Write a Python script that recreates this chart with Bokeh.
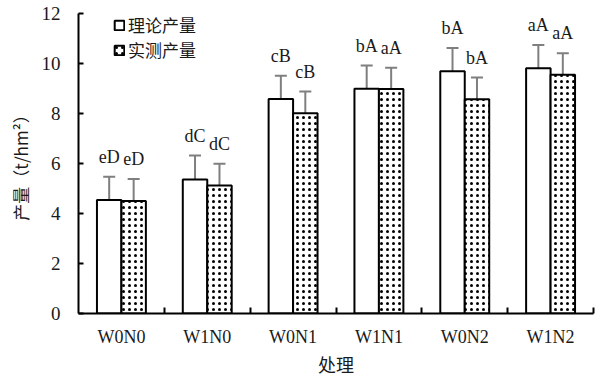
from bokeh.plotting import figure
from bokeh.models import (ColumnDataSource, FixedTicker, Whisker, TeeHead,
                          Legend, LegendItem, LabelSet, Range1d)
from bokeh.transform import dodge
from bokeh.embed import file_html
from bokeh.resources import INLINE

categories = ["W0N0", "W1N0", "W0N1", "W1N1", "W0N2", "W1N2"]
theory = [4.54, 5.36, 8.58, 8.99, 9.69, 9.81]
theory_err = [0.93, 0.96, 0.93, 0.93, 0.93, 0.93]
measured = [4.50, 5.12, 8.01, 8.98, 8.57, 9.55]
measured_err = [0.88, 0.87, 0.87, 0.85, 0.87, 0.86]
theory_labels = ["eD", "dC", "cB", "bA", "bA", "aA"]
measured_labels = ["eD", "dC", "cB", "aA", "bA", "aA"]
y_ticks = [0, 2, 4, 6, 8, 10, 12]

SERIF = "'Liberation Serif', serif"
CJK = "Noto Sans CJK SC"
TXT = "#1a1a1a"

xc = [i + 0.5 for i in range(len(categories))]
src = ColumnDataSource(dict(
    x=xc,
    t=theory, tu=[v + e for v, e in zip(theory, theory_err)],
    tl=[v - e for v, e in zip(theory, theory_err)],
    m=measured, mu=[v + e for v, e in zip(measured, measured_err)],
    ml=[v - e for v, e in zip(measured, measured_err)],
    tlab=theory_labels, mlab=measured_labels,
))

p = figure(width=596, height=379, output_backend="svg", toolbar_location=None,
           x_range=Range1d(0, 6), y_range=Range1d(0, 12),
           min_border_left=78, min_border_right=3, min_border_top=13,
           min_border_bottom=64)
p.outline_line_color = None
p.grid.visible = False
p.background_fill_color = "white"

bw = 0.285
off = bw / 2
r1 = p.vbar(x=dodge("x", -off), top="t", width=bw, source=src,
            fill_color="white", line_color="black", line_width=2)
r2 = p.vbar(x=dodge("x", off), top="m", width=bw, source=src,
            fill_color="white", line_color="black", line_width=2,
            hatch_pattern="dot", hatch_color="black", hatch_scale=6,
            hatch_weight=1)

for xs, up, lo in ((dodge("x", -off), "tu", "tl"), (dodge("x", off), "mu", "ml")):
    w = Whisker(base=xs, upper=up, lower=lo, source=src, dimension="height",
                line_color="#7f7f7f", line_width=2,
                upper_head=TeeHead(size=12, line_color="#7f7f7f", line_width=2),
                lower_head=TeeHead(size=12, line_color="#7f7f7f", line_width=2))
    p.add_layout(w)

for xs, yy, lab in ((dodge("x", -off), "tu", "tlab"), (dodge("x", off), "mu", "mlab")):
    ls = LabelSet(x=xs, y=yy, text=lab, source=src, text_align="center",
                  text_baseline="alphabetic", y_offset=14, text_font=SERIF,
                  text_font_size="18px", text_color=TXT)
    p.add_layout(ls)

# axes
xax = p.below[0]
yax = p.left[0]
xax.ticker = FixedTicker(ticks=xc, minor_ticks=[1, 2, 3, 4, 5, 6])
xax.major_label_overrides = {x: c for x, c in zip(xc, categories)}
xax.major_tick_in = 0
xax.major_tick_out = 0
xax.minor_tick_in = 6
xax.minor_tick_out = 0
xax.minor_tick_line_color = "black"
xax.minor_tick_line_width = 2
xax.major_label_text_font = SERIF
xax.major_label_text_font_size = "18px"
xax.major_label_text_color = TXT
xax.major_label_standoff = 13
xax.axis_label = "处理"
xax.axis_label_text_font = CJK
xax.axis_label_text_font_style = "normal"
xax.axis_label_text_font_size = "18px"
xax.axis_label_standoff = 1
xax.axis_label_text_color = TXT

yax.ticker = FixedTicker(ticks=y_ticks, minor_ticks=[])
yax.major_tick_in = 5
yax.major_tick_out = 0
yax.major_label_text_font = SERIF
yax.major_label_text_font_size = "19px"
yax.major_label_text_color = TXT
yax.major_label_standoff = 18
yax.axis_label = "产量（t/hm²）"
yax.axis_label_text_font = CJK
yax.axis_label_text_font_style = "normal"
yax.axis_label_text_font_size = "17px"
yax.axis_label_standoff = 6
yax.axis_label_text_color = TXT

for ax in (xax, yax):
    ax.axis_line_color = "black"
    ax.axis_line_width = 2
    ax.major_tick_line_color = "black"
    ax.major_tick_line_width = 2

for r, name, ypos in ((r1, "理论产量", 276), (r2, "实测产量", 251)):
    lg = Legend(items=[LegendItem(label=name, renderers=[r])],
                location=(35, ypos), orientation="vertical",
                glyph_width=12, glyph_height=12, label_standoff=3,
                padding=0, spacing=0, margin=0, label_height=12,
                border_line_color=None, background_fill_alpha=0,
                label_text_font=CJK, label_text_font_size="17px",
                label_text_color=TXT)
    p.add_layout(lg, "center")

open("out.html", "w").write(file_html(p, INLINE))
